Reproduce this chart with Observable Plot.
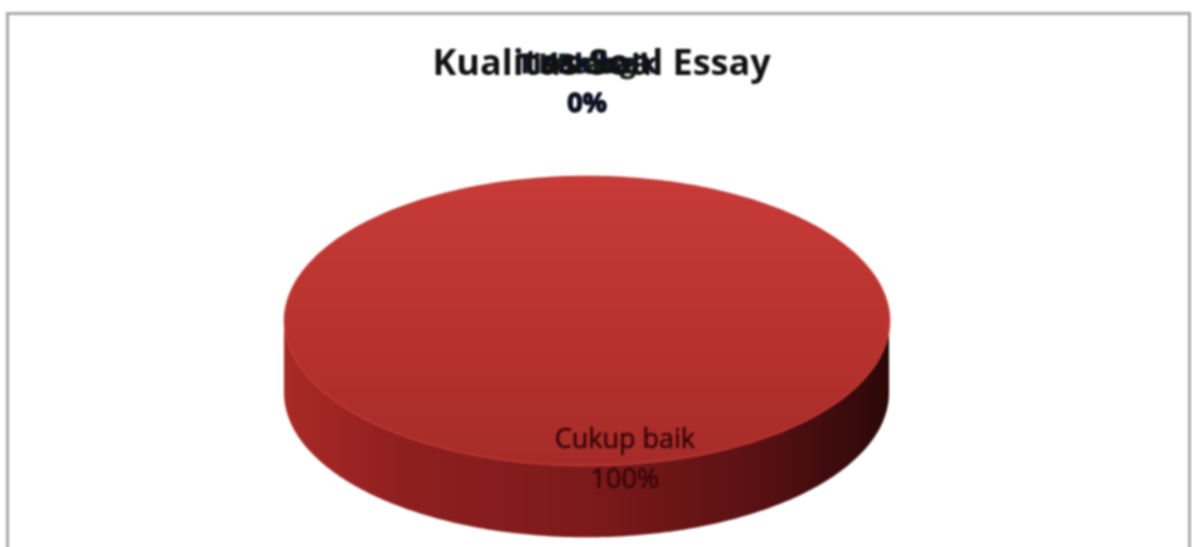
<!DOCTYPE html>
<html><head><meta charset="utf-8">
<script src="https://cdn.jsdelivr.net/npm/d3@7"></script>
<script src="https://cdn.jsdelivr.net/npm/@observablehq/plot@0.6"></script>
<style>
html,body{margin:0;padding:0;background:#fff;overflow:hidden;width:1192px;height:547px}
#frame{position:absolute;left:6px;top:12px;width:1179px;height:560px;border:3px solid #a9a9a9;box-sizing:content-box;filter:blur(1px)}
#chart{position:absolute;left:0;top:0;filter:blur(1.2px)}
#chart svg{background:transparent}
</style></head><body>
<div id="frame"></div><div id="chart"></div>
<script>
const title = "Kualitas Soal Essay";
const categories = ["Baik", "Cukup baik", "Kurang", "Tidak baik"];
const shares = [0, 100, 0, 0];
const labelColors = ["#0c2230", "#3c0508", "#122414", "#101024"];

const depth = 0.5;            // pie thickness, in radii of the vertical axis
const pie = d3.pie().sort(null).value(d => d.share)(categories.map((name, i) => ({name, share: shares[i], color: labelColors[i]})));
const slices = pie.map(p => ({...p.data, start: p.startAngle, end: p.endAngle, mid: (p.startAngle + p.endAngle) / 2}));

// angle 0 = top of pie, clockwise
const rim = slices.filter(s => s.share > 0).flatMap(s =>
  d3.range(0, 361).map(k => {
    const a = s.start + (s.end - s.start) * k / 360;
    return {name: s.name, a, x: Math.sin(a), y: Math.cos(a)};
  }));
const front = rim.filter(d => d.y <= 0).sort((p, q) => p.x - q.x);

const labels = slices.map(s => ({
  text: `${s.name}\n${s.share}%`,
  color: s.color,
  x: Math.sin(s.mid) + (s.share > 0 ? 0.125 : 0),
  y: s.share > 0 ? Math.cos(s.mid) * 0.93 : Math.cos(s.mid) * 1.67,
  big: s.share > 0
}));

const defs = () => {
  const d = d3.create("svg:defs");
  const add = (id, dir, stops) => {
    const g = d.append("linearGradient").attr("id", id)
      .attr("x1", 0).attr("y1", 0).attr("x2", dir ? 1 : 0).attr("y2", dir ? 0 : 1);
    stops.forEach(([o, c]) => g.append("stop").attr("offset", o).attr("stop-color", c));
  };
  add("topFace", 0, [[0, "#c73b38"], [0.5, "#b9332f"], [1, "#a62c29"]]);
  add("sideFace", 1, [[0, "#a92a26"], [0.2, "#8e1f1f"], [0.5, "#7d1a1b"], [0.78, "#5a1113"], [0.95, "#360a0b"], [1, "#2a0808"]]);
  return d.node();
};

const plot = Plot.plot({
  width: 1192, height: 547,
  margin: 0,
  x: {domain: [-1, 1], range: [284, 889], axis: null},
  y: {domain: [-1, 1], range: [465, 176], axis: null},
  marks: [
    defs,
    Plot.areaY(front, {x: "x", y1: d => d.y, y2: d => d.y - depth, fill: "url(#sideFace)", curve: "linear"}),
    Plot.line(rim, {x: "x", y: "y", fill: "url(#topFace)", stroke: "#c23a35", strokeWidth: 1.5, curve: "linear"}),
    Plot.text(labels.filter(d => !d.big), {
      x: "x", y: "y", text: "text", fill: "color", stroke: "color", strokeWidth: 1, fontSize: 27, fontWeight: 700,
      fontFamily: "Open Sans", lineHeight: 1.45, lineAnchor: "middle"
    }),
    Plot.text([title], {
      x: [0.048], y: [1.78], text: d => d, fill: "#111", fontSize: 36, fontWeight: 700,
      fontFamily: "Open Sans", lineAnchor: "middle"
    }),
    Plot.text(labels.filter(d => d.big), {
      x: "x", y: "y", text: "text", fill: "color", stroke: "color", strokeWidth: 0.7, fontSize: 27,
      fontFamily: "Open Sans", lineHeight: 1.48, lineAnchor: "middle"
    })
  ]
});
document.getElementById("chart").append(plot);
</script>
</body></html>
